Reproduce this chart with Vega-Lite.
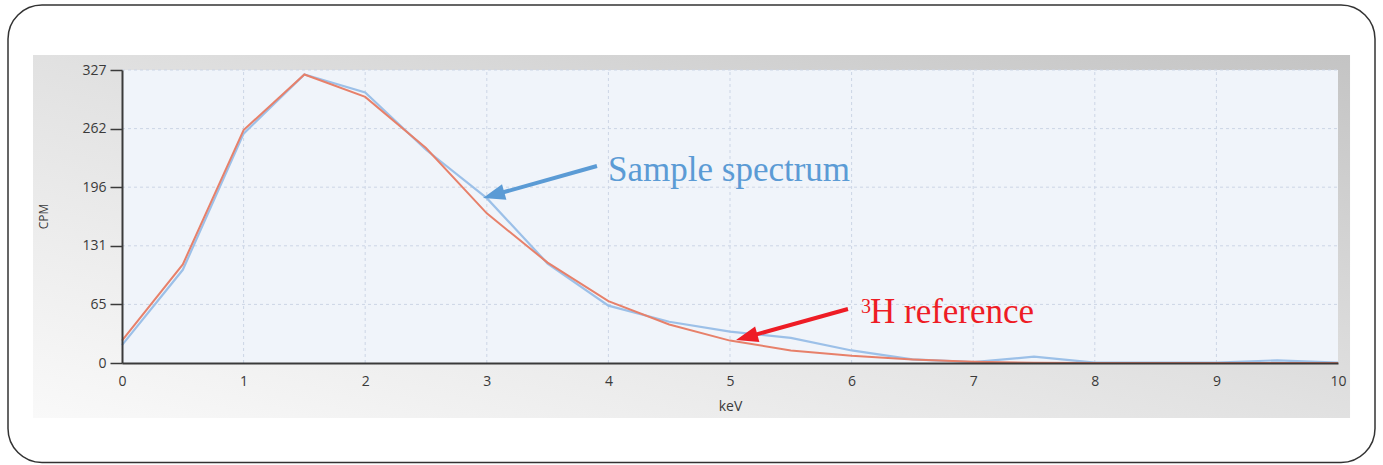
{
  "$schema": "https://vega.github.io/schema/vega-lite/v6.json",
  "width": 1216,
  "height": 293,
  "autosize": "none",
  "padding": {"left": 122, "top": 70, "right": 45, "bottom": 102},
  "background": "#ffffff",
  "config": {
    "view": {"stroke": null},
    "axis": {
      "grid": false,
      "labelFont": "Open Sans",
      "titleFont": "Open Sans",
      "labelColor": "#3a3a3a",
      "titleColor": "#3a3a3a",
      "titleFontWeight": "normal",
      "domainColor": "#3a3a3a",
      "domainWidth": 2,
      "tickColor": "#3a3a3a"
    }
  },
  "datasets": {
    "spectra": [
      {"keV": 0, "cpm": 20, "series": "Sample spectrum"},
      {"keV": 0.5, "cpm": 104, "series": "Sample spectrum"},
      {"keV": 1, "cpm": 256, "series": "Sample spectrum"},
      {"keV": 1.5, "cpm": 322, "series": "Sample spectrum"},
      {"keV": 2, "cpm": 302, "series": "Sample spectrum"},
      {"keV": 2.5, "cpm": 238, "series": "Sample spectrum"},
      {"keV": 3, "cpm": 184, "series": "Sample spectrum"},
      {"keV": 3.5, "cpm": 111, "series": "Sample spectrum"},
      {"keV": 4, "cpm": 64, "series": "Sample spectrum"},
      {"keV": 4.5, "cpm": 46, "series": "Sample spectrum"},
      {"keV": 5, "cpm": 35, "series": "Sample spectrum"},
      {"keV": 5.5, "cpm": 28, "series": "Sample spectrum"},
      {"keV": 6, "cpm": 14, "series": "Sample spectrum"},
      {"keV": 6.5, "cpm": 4, "series": "Sample spectrum"},
      {"keV": 7, "cpm": 1, "series": "Sample spectrum"},
      {"keV": 7.5, "cpm": 7, "series": "Sample spectrum"},
      {"keV": 8, "cpm": 0.5, "series": "Sample spectrum"},
      {"keV": 8.5, "cpm": 0.5, "series": "Sample spectrum"},
      {"keV": 9, "cpm": 0.5, "series": "Sample spectrum"},
      {"keV": 9.5, "cpm": 3, "series": "Sample spectrum"},
      {"keV": 10, "cpm": 0.5, "series": "Sample spectrum"},
      {"keV": 0, "cpm": 25, "series": "3H reference"},
      {"keV": 0.5, "cpm": 110, "series": "3H reference"},
      {"keV": 1, "cpm": 260, "series": "3H reference"},
      {"keV": 1.5, "cpm": 322, "series": "3H reference"},
      {"keV": 2, "cpm": 297, "series": "3H reference"},
      {"keV": 2.5, "cpm": 240, "series": "3H reference"},
      {"keV": 3, "cpm": 167, "series": "3H reference"},
      {"keV": 3.5, "cpm": 112, "series": "3H reference"},
      {"keV": 4, "cpm": 69, "series": "3H reference"},
      {"keV": 4.5, "cpm": 43, "series": "3H reference"},
      {"keV": 5, "cpm": 25, "series": "3H reference"},
      {"keV": 5.5, "cpm": 14, "series": "3H reference"},
      {"keV": 6, "cpm": 8, "series": "3H reference"},
      {"keV": 6.5, "cpm": 4, "series": "3H reference"},
      {"keV": 7, "cpm": 1.5, "series": "3H reference"},
      {"keV": 7.5, "cpm": 0.3, "series": "3H reference"},
      {"keV": 8, "cpm": 0, "series": "3H reference"},
      {"keV": 8.5, "cpm": 0, "series": "3H reference"},
      {"keV": 9, "cpm": 0, "series": "3H reference"},
      {"keV": 9.5, "cpm": 0, "series": "3H reference"},
      {"keV": 10, "cpm": 0, "series": "3H reference"}
    ],
    "vgrid": [{"keV": 1}, {"keV": 2}, {"keV": 3}, {"keV": 4}, {"keV": 5}, {"keV": 6}, {"keV": 7}, {"keV": 8}, {"keV": 9}],
    "hgrid": [{"cpm": 65.4}, {"cpm": 130.8}, {"cpm": 196.2}, {"cpm": 261.6}, {"cpm": 327}],
    "labels": [
      {"label": "Sample spectrum", "kind": "sample"},
      {"label": "H reference", "kind": "reference"},
      {"label": "3", "kind": "superscript"}
    ]
  },
  "layer": [
    {
      "data": {"name": "labels"},
      "transform": [{"filter": "datum.kind === 'sample'"}],
      "mark": {"type": "rect", "fillOpacity": 0, "stroke": "#333333", "strokeWidth": 1.5, "cornerRadius": 34},
      "encoding": {
        "x": {"datum": -0.9375, "type": "quantitative", "scale": {"domain": [0, 10], "nice": false, "zero": false},
          "axis": {"zindex": 1, "title": "keV", "values": [0, 1, 2, 3, 4, 5, 6, 7, 8, 9, 10], "format": "d", "ticks": false, "labelPadding": 11, "labelFontSize": 14, "titleFontSize": 14, "titlePadding": 11, "labelFlush": false}},
        "x2": {"datum": 10.3043},
        "y": {"datum": 399.5, "type": "quantitative", "scale": {"domain": [0, 327], "nice": false},
          "axis": {"zindex": 1, "title": "CPM", "values": [0, 65.4, 130.8, 196.2, 261.6, 327], "format": ".0f", "tickSize": 12, "tickWidth": 1.5, "labelPadding": 4, "labelFontSize": 14, "titleFontSize": 12, "titleX": -72, "titleY": 146, "titleAngle": -90, "titleBaseline": "bottom", "titleAlign": "center", "labelFlush": false}},
        "y2": {"datum": -111.0}
      }
    },
    {
      "data": {"name": "labels"},
      "transform": [{"filter": "datum.kind === 'sample'"}],
      "mark": {
        "type": "rect",
        "fill": {
          "gradient": "linear", "x1": 0, "y1": 1, "x2": 1, "y2": 0,
          "stops": [
            {"offset": 0, "color": "#f9f9f9"},
            {"offset": 0.5, "color": "#e1e1e1"},
            {"offset": 1, "color": "#c4c4c4"}
          ]
        }
      },
      "encoding": {
        "x": {"datum": -0.732, "type": "quantitative"},
        "x2": {"datum": 10.099},
        "y": {"datum": 343.75, "type": "quantitative"},
        "y2": {"datum": -61.4}
      }
    },
    {
      "data": {"name": "labels"},
      "transform": [{"filter": "datum.kind === 'sample'"}],
      "mark": {"type": "rect", "fill": "#f0f4fa"},
      "encoding": {
        "x": {"datum": 0, "type": "quantitative"},
        "x2": {"datum": 10},
        "y": {"datum": 0, "type": "quantitative"},
        "y2": {"datum": 327}
      }
    },
    {
      "data": {"name": "vgrid"},
      "mark": {"type": "rule", "stroke": "#ccd5e5", "strokeWidth": 1, "strokeDash": [3, 3]},
      "encoding": {"x": {"field": "keV", "type": "quantitative"}, "y": {"datum": 0, "type": "quantitative"}, "y2": {"datum": 327}}
    },
    {
      "data": {"name": "hgrid"},
      "mark": {"type": "rule", "stroke": "#ccd5e5", "strokeWidth": 1, "strokeDash": [3, 3]},
      "encoding": {"y": {"field": "cpm", "type": "quantitative"}, "x": {"datum": 0, "type": "quantitative"}, "x2": {"datum": 10}}
    },
    {
      "data": {"name": "spectra"},
      "transform": [{"filter": "datum.series === 'Sample spectrum'"}],
      "mark": {"type": "line", "stroke": "#9cc0e8", "strokeWidth": 2.2},
      "encoding": {"x": {"field": "keV", "type": "quantitative"}, "y": {"field": "cpm", "type": "quantitative"}}
    },
    {
      "data": {"name": "spectra"},
      "transform": [{"filter": "datum.series === '3H reference'"}],
      "mark": {"type": "line", "stroke": "#e7806a", "strokeWidth": 2},
      "encoding": {"x": {"field": "keV", "type": "quantitative"}, "y": {"field": "cpm", "type": "quantitative"}}
    },
    {
      "data": {"name": "labels"},
      "transform": [{"filter": "datum.kind === 'sample'"}],
      "mark": {"type": "rule", "stroke": "#5b9bd5", "strokeWidth": 4},
      "encoding": {
        "x": {"datum": 3.906, "type": "quantitative"}, "y": {"datum": 219.9, "type": "quantitative"},
        "x2": {"datum": 3.056}, "y2": {"datum": 187.5}
      }
    },
    {
      "data": {"name": "labels"},
      "transform": [{"filter": "datum.kind === 'sample'"}],
      "mark": {"type": "point", "shape": "M0,-1L-0.73,1L0.73,1Z", "filled": true, "fill": "#5b9bd5", "opacity": 1, "size": 484, "angle": 254.3, "strokeWidth": 0},
      "encoding": {"x": {"datum": 3.056, "type": "quantitative"}, "y": {"datum": 187.5, "type": "quantitative"}}
    },
    {
      "data": {"name": "labels"},
      "transform": [{"filter": "datum.kind === 'reference'"}],
      "mark": {"type": "rule", "stroke": "#ee1c25", "strokeWidth": 4},
      "encoding": {
        "x": {"datum": 5.970, "type": "quantitative"}, "y": {"datum": 60.3, "type": "quantitative"},
        "x2": {"datum": 5.137}, "y2": {"datum": 28.9}
      }
    },
    {
      "data": {"name": "labels"},
      "transform": [{"filter": "datum.kind === 'reference'"}],
      "mark": {"type": "point", "shape": "M0,-1L-0.73,1L0.73,1Z", "filled": true, "fill": "#ee1c25", "opacity": 1, "size": 484, "angle": 254.5, "strokeWidth": 0},
      "encoding": {"x": {"datum": 5.137, "type": "quantitative"}, "y": {"datum": 28.9, "type": "quantitative"}}
    },
    {
      "data": {"name": "labels"},
      "transform": [{"filter": "datum.kind === 'sample'"}],
      "mark": {"type": "text", "font": "Liberation Serif", "fontSize": 35, "fill": "#5b9bd5", "align": "left", "baseline": "alphabetic"},
      "encoding": {
        "x": {"datum": 3.997, "type": "quantitative"}, "y": {"datum": 203.1, "type": "quantitative"},
        "text": {"field": "label"}
      }
    },
    {
      "data": {"name": "labels"},
      "transform": [{"filter": "datum.kind === 'superscript'"}],
      "mark": {"type": "text", "font": "Liberation Serif", "fontSize": 20, "fill": "#ee1c25", "align": "left", "baseline": "alphabetic"},
      "encoding": {
        "x": {"datum": 6.077, "type": "quantitative"}, "y": {"datum": 55.8, "type": "quantitative"},
        "text": {"field": "label"}
      }
    },
    {
      "data": {"name": "labels"},
      "transform": [{"filter": "datum.kind === 'reference'"}],
      "mark": {"type": "text", "font": "Liberation Serif", "fontSize": 35, "fill": "#ee1c25", "align": "left", "baseline": "alphabetic"},
      "encoding": {
        "x": {"datum": 6.151, "type": "quantitative"}, "y": {"datum": 44.1, "type": "quantitative"},
        "text": {"field": "label"}
      }
    }
  ]
}
